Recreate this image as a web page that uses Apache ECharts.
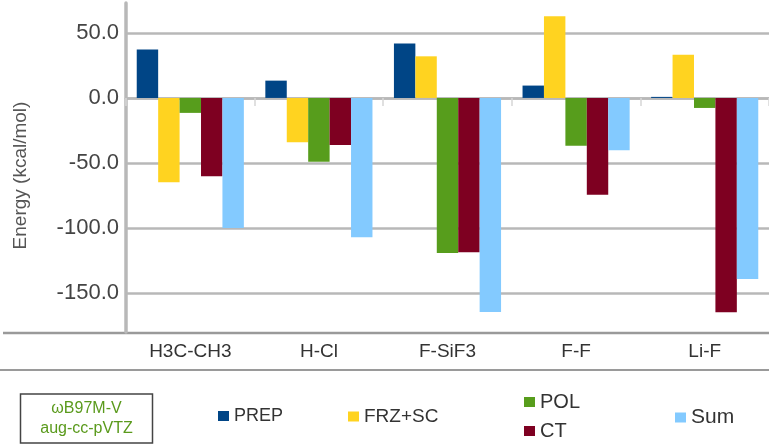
<!DOCTYPE html>
<html>
<head>
<meta charset="utf-8">
<script src="https://cdn.jsdelivr.net/npm/echarts@6/dist/echarts.min.js"></script>
<style>
  html, body { margin: 0; padding: 0; background: #fff; }
  #chart { width: 769px; height: 445px; }
</style>
</head>
<body>
<div id="chart"></div>
<script>
const categories = ['H3C-CH3', 'H-Cl', 'F-SiF3', 'F-F', 'Li-F']
const prep = [37.2, 13.3, 41.8, 9.5, 0.8]
const frzSc = [-64.9, -34.1, 32.0, 62.8, 33.3]
const pol = [-11.5, -49.0, -119.2, -36.7, -7.7]
const ct = [-60.3, -36.2, -118.7, -74.4, -164.9]
const sum = [-100.0, -107.2, -164.6, -40.3, -139.2]
const yTicks = [-150, -100, -50, 0, 50]

const sans = '"Liberation Sans", Arial, sans-serif'
const gridGrey = '#b8b8b8'

// gridlines only on the labelled ticks (interval 10, every 5th line shown)
const lineColors = ['transparent', 'transparent', 'transparent', gridGrey, 'transparent']

const chart = echarts.init(document.getElementById('chart'))

function barSeries(name, data, color) {
  return {
    name,
    type: 'bar',
    data,
    barGap: 0,
    barCategoryGap: '16.7%',
    itemStyle: { color }
  }
}

function legendAt(names, left, top, fontSize) {
  return {
    data: names,
    left,
    top,
    padding: 0,
    icon: 'rect',
    itemWidth: 11,
    itemHeight: 10,
    itemGap: 0,
    textStyle: { fontFamily: sans, fontSize, color: '#333' }
  }
}

const option = {
  animation: false,
  grid: { left: 126, right: -1, top: 3, bottom: 113 },
  xAxis: [
    {
      type: 'category',
      data: categories,
      axisLine: { onZero: true, lineStyle: { color: gridGrey, width: 2.5 } },
      axisTick: { show: true, length: 8, lineStyle: { color: '#d6d6d6', width: 1.5 } },
      axisLabel: { show: false }
    },
    {
      type: 'category',
      data: categories,
      position: 'bottom',
      axisLine: { show: false, onZero: false },
      axisTick: { show: false },
      axisLabel: {
        margin: 10,
        fontFamily: sans,
        fontSize: 19,
        color: '#333'
      }
    }
  ],
  yAxis: {
    type: 'value',
    min: -180,
    max: 73,
    interval: 10,
    name: 'Energy (kcal/mol)',
    nameLocation: 'middle',
    nameGap: 96,
    nameTextStyle: { fontFamily: sans, fontSize: 19, color: '#555', padding: [0, 16, 0, 0] },
    axisLine: { show: true, lineStyle: { color: gridGrey, width: 3.5 } },
    axisTick: { show: false },
    axisLabel: {
      margin: 7,
      fontFamily: sans,
      fontSize: 22,
      color: '#444',
      formatter: v => (yTicks.indexOf(v) >= 0 ? v.toFixed(1) : '')
    },
    splitLine: { show: true, lineStyle: { color: lineColors, width: 2.5 } }
  },
  legend: [
    legendAt(['PREP'], 218, 407, 18),
    legendAt(['FRZ+SC'], 348, 407, 19),
    legendAt(['POL'], 524, 392, 20),
    legendAt(['CT'], 524, 421, 20),
    legendAt(['Sum'], 675, 407, 21)
  ],
  graphic: [
    {
      type: 'line',
      shape: { x1: 3, y1: 333, x2: 769, y2: 333 },
      style: { stroke: '#9a9a9a', lineWidth: 2.5 }
    },
    {
      type: 'line',
      shape: { x1: 0, y1: 370, x2: 769, y2: 370 },
      style: { stroke: '#9a9a9a', lineWidth: 2 }
    },
    {
      type: 'rect',
      shape: { x: 20.5, y: 394, width: 132, height: 49 },
      style: { fill: '#fff', stroke: '#444', lineWidth: 1.5 }
    },
    {
      type: 'text',
      x: 86.5, y: 419,
      style: {
        text: 'ωB97M-V\naug-cc-pVTZ',
        fill: '#5a9a1c',
        font: '16px ' + sans,
        lineHeight: 20,
        align: 'center',
        verticalAlign: 'middle'
      }
    }
  ],
  series: [
    barSeries('PREP', prep, '#004586'),
    barSeries('FRZ+SC', frzSc, '#ffd320'),
    barSeries('POL', pol, '#579d1c'),
    barSeries('CT', ct, '#7e0021'),
    barSeries('Sum', sum, '#83caff')
  ]
}

chart.setOption(option)
</script>
</body>
</html>
